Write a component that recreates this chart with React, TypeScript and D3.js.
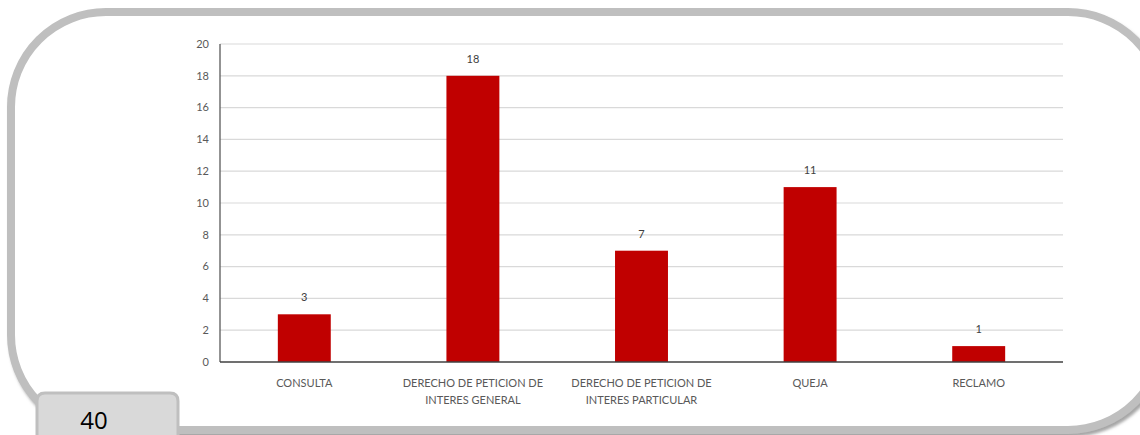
import React, { useEffect, useRef } from "react";
import * as d3 from "d3";

const categories: string[] = [
  "CONSULTA",
  "DERECHO DE PETICION DE\nINTERES GENERAL",
  "DERECHO DE PETICION DE\nINTERES PARTICULAR",
  "QUEJA",
  "RECLAMO",
];
const values: number[] = [3, 18, 7, 11, 1];
const yTicks: number[] = [0, 2, 4, 6, 8, 10, 12, 14, 16, 18, 20];
const pageNumber = "40";

const W = 1140;
const H = 435;
const margin = { left: 220, right: 1063, top: 44, bottom: 362 };
const FONT = "Lato, 'Open Sans', sans-serif";

export default function App() {
  const ref = useRef<SVGSVGElement | null>(null);

  useEffect(() => {
    const svg = d3.select(ref.current);
    svg.selectAll("*").remove();

    const defs = svg.append("defs");
    const f = defs.append("filter").attr("id", "sh").attr("x", "-5%").attr("y", "-5%").attr("width", "110%").attr("height", "110%");
    f.append("feDropShadow").attr("dx", 2).attr("dy", 3).attr("stdDeviation", 1.5).attr("flood-color", "#7f7f7f").attr("flood-opacity", 0.7);

    svg.append("rect").attr("width", W).attr("height", H).attr("fill", "#ffffff");

    // frame
    svg
      .append("rect")
      .attr("x", 11)
      .attr("y", 12)
      .attr("width", 1152)
      .attr("height", 418)
      .attr("rx", 95)
      .attr("ry", 95)
      .attr("fill", "#ffffff")
      .attr("stroke", "#bfbfbf")
      .attr("stroke-width", 8)
      .attr("filter", "url(#sh)");

    const x = d3
      .scaleBand<string>()
      .domain(categories)
      .range([margin.left, margin.right])
      .paddingInner(0.686)
      .paddingOuter(0.343);
    const y = d3.scaleLinear().domain([0, 20]).range([margin.bottom, margin.top]);

    // gridlines
    svg
      .append("g")
      .selectAll("line")
      .data(yTicks.filter((t) => t > 0))
      .join("line")
      .attr("x1", margin.left)
      .attr("x2", margin.right)
      .attr("y1", (d) => y(d))
      .attr("y2", (d) => y(d))
      .attr("stroke", "#d9d9d9")
      .attr("stroke-width", 1.2);

    // y tick labels
    svg
      .append("g")
      .selectAll("text")
      .data(yTicks)
      .join("text")
      .attr("x", 209)
      .attr("y", (d) => y(d))
      .attr("dy", "0.35em")
      .attr("text-anchor", "end")
      .attr("font-family", FONT)
      .attr("font-size", 11)
      .attr("fill", "#595959")
      .text((d) => String(d));

    // bars
    svg
      .append("g")
      .selectAll("rect")
      .data(values)
      .join("rect")
      .attr("x", (_, i) => x(categories[i]) as number)
      .attr("width", x.bandwidth())
      .attr("y", (d) => y(d))
      .attr("height", (d) => y(0) - y(d))
      .attr("fill", "#c00000");

    // value labels
    svg
      .append("g")
      .selectAll("text")
      .data(values)
      .join("text")
      .attr("x", (_, i) => (x(categories[i]) as number) + x.bandwidth() / 2)
      .attr("y", (d) => y(d) - 13)
      .attr("text-anchor", "middle")
      .attr("font-family", FONT)
      .attr("font-size", 11)
      .attr("fill", "#404040")
      .text((d) => String(d));

    // axes lines
    svg
      .append("line")
      .attr("x1", margin.left)
      .attr("x2", margin.left)
      .attr("y1", margin.top)
      .attr("y2", margin.bottom)
      .attr("stroke", "#595959")
      .attr("stroke-width", 1.3);
    svg
      .append("line")
      .attr("x1", margin.left)
      .attr("x2", margin.right)
      .attr("y1", margin.bottom)
      .attr("y2", margin.bottom)
      .attr("stroke", "#404040")
      .attr("stroke-width", 1.3);

    // category labels
    const cg = svg.append("g");
    categories.forEach((c) => {
      const cx = (x(c) as number) + x.bandwidth() / 2;
      const t = cg
        .append("text")
        .attr("x", cx)
        .attr("y", 387)
        .attr("text-anchor", "middle")
        .attr("font-family", FONT)
        .attr("font-size", 11)
        .attr("fill", "#595959");
      c.split("\n").forEach((line, j) => {
        t.append("tspan").attr("x", cx).attr("dy", j === 0 ? 0 : 17).text(line);
      });
    });

    // page tab
    svg
      .append("path")
      .attr("d", "M37,440 L37,401 Q37,393 45,393 L170,393 Q178,393 178,401 L178,440")
      .attr("fill", "#d9d9d9")
      .attr("stroke", "#bfbfbf")
      .attr("stroke-width", 3);
    svg
      .append("text")
      .attr("x", 94)
      .attr("y", 429)
      .attr("text-anchor", "middle")
      .attr("font-family", "'Open Sans', Lato, sans-serif")
      .attr("font-size", 24)
      .attr("fill", "#000000")
      .text(pageNumber);
  }, []);

  return (
    <svg
      ref={ref}
      width={W}
      height={H}
      style={{ position: "absolute", left: 0, top: 0, display: "block" }}
    />
  );
}
